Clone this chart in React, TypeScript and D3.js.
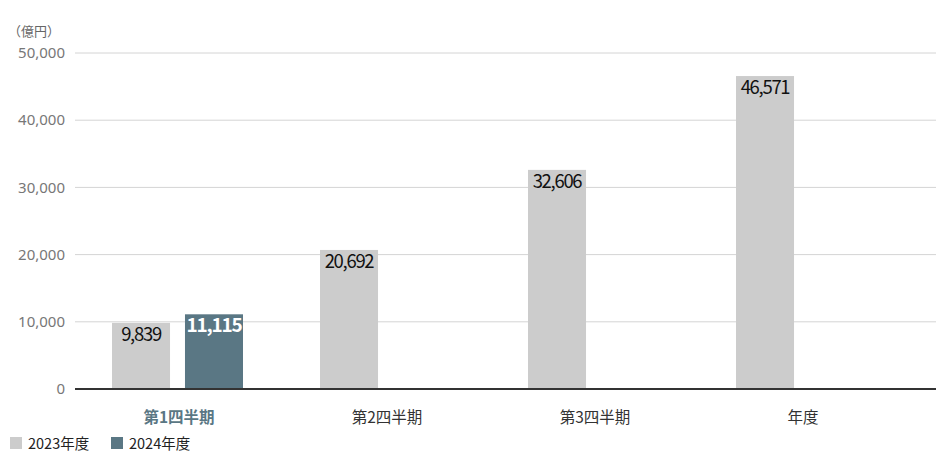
import React, { useEffect, useRef } from 'react';
import * as d3 from 'd3';

const categories = ['第1四半期', '第2四半期', '第3四半期', '年度'];
const values2023 = [9839, 20692, 32606, 46571];
const values2024: (number | null)[] = [11115, null, null, null];
const yTicks = [0, 10000, 20000, 30000, 40000, 50000];
const seriesNames = ['2023年度', '2024年度'];
const unitLabel = '（億円）';

const GRAY = '#cccccc';
const BLUE = '#5a7784';
const FONT = '"Noto Sans CJK JP", "Noto Sans", sans-serif';

const App = () => {
  const ref = useRef<SVGSVGElement>(null);

  useEffect(() => {
    const width = 936;
    const height = 456;
    const margin = { top: 53, left: 75, bottom: 67, right: 29 };
    const svg = d3.select(ref.current!);
    svg.selectAll('*').remove();

    const x = d3.scaleBand<string>()
      .domain(categories)
      .range([margin.left, width - margin.right])
      .padding(0);

    const y = d3.scaleLinear()
      .domain([0, 50000])
      .range([height - margin.bottom, margin.top]);

    // slots inside each category band
    const slot = d3.scaleBand<string>()
      .domain(['2023', '2024'])
      .range([37, 168])
      .paddingInner(0.205);

    // gridlines
    svg.append('g')
      .selectAll('line')
      .data(yTicks.filter(t => t > 0))
      .enter()
      .append('line')
      .attr('x1', margin.left)
      .attr('x2', width)
      .attr('y1', d => y(d))
      .attr('y2', d => y(d))
      .attr('stroke', '#d4d4d4')
      .attr('stroke-width', 1);

    // y tick labels
    svg.append('g')
      .selectAll('text')
      .data(yTicks)
      .enter()
      .append('text')
      .attr('x', 65)
      .attr('y', d => y(d))
      .attr('dy', '0.35em')
      .attr('text-anchor', 'end')
      .attr('font-family', '"Noto Sans", sans-serif')
      .attr('font-size', 15)
      .attr('fill', '#777')
      .text(d => d3.format(',')(d));

    svg.append('text')
      .attr('x', 8)
      .attr('y', 36)
      .attr('font-family', FONT)
      .attr('font-size', 13)
      .attr('fill', '#666')
      .text(unitLabel);

    // 2023 bars
    svg.append('g')
      .selectAll('rect')
      .data(values2023)
      .enter()
      .append('rect')
      .attr('x', (d, i) => x(categories[i])! + slot('2023')!)
      .attr('y', d => y(d))
      .attr('width', slot.bandwidth())
      .attr('height', d => y(0) - y(d))
      .attr('fill', GRAY);

    svg.append('g')
      .selectAll('text')
      .data(values2023)
      .enter()
      .append('text')
      .attr('x', (d, i) => x(categories[i])! + slot('2023')! + slot.bandwidth() / 2)
      .attr('y', d => y(d) + 18)
      .attr('text-anchor', 'middle')
      .attr('font-family', FONT)
      .attr('font-size', 18.5)
      .attr('letter-spacing', '-1.3px')
      .attr('fill', '#111')
      .text(d => d3.format(',')(d));

    // 2024 bars
    const data2024 = values2024
      .map((v, i) => ({ v, c: categories[i] }))
      .filter(d => d.v !== null) as { v: number; c: string }[];

    svg.append('g')
      .selectAll('rect')
      .data(data2024)
      .enter()
      .append('rect')
      .attr('x', d => x(d.c)! + slot('2024')!)
      .attr('y', d => y(d.v))
      .attr('width', slot.bandwidth())
      .attr('height', d => y(0) - y(d.v))
      .attr('fill', BLUE);

    svg.append('g')
      .selectAll('text')
      .data(data2024)
      .enter()
      .append('text')
      .attr('x', d => x(d.c)! + slot('2024')! + slot.bandwidth() / 2)
      .attr('y', d => y(d.v) + 18)
      .attr('text-anchor', 'middle')
      .attr('font-family', FONT)
      .attr('font-size', 19)
      .attr('font-weight', 'bold')
      .attr('letter-spacing', '-1.2px')
      .attr('fill', '#fff')
      .text(d => d3.format(',')(d.v));

    // baseline
    svg.append('line')
      .attr('x1', margin.left)
      .attr('x2', width)
      .attr('y1', y(0))
      .attr('y2', y(0))
      .attr('stroke', '#333')
      .attr('stroke-width', 2);

    // category labels
    svg.append('g')
      .selectAll('text')
      .data(categories)
      .enter()
      .append('text')
      .attr('x', d => x(d)! + x.bandwidth() / 2)
      .attr('y', 423)
      .attr('text-anchor', 'middle')
      .attr('font-family', FONT)
      .attr('font-size', 15.5)
      .attr('font-weight', (d, i) => (values2024[i] !== null ? 'bold' : 'normal'))
      .attr('fill', (d, i) => (values2024[i] !== null ? BLUE : '#333'))
      .text(d => d);

    // legend
    const legend = svg.append('g');
    const legendX = [10, 111];
    const legendColors = [GRAY, BLUE];
    seriesNames.forEach((name, i) => {
      legend.append('rect')
        .attr('x', legendX[i])
        .attr('y', 437)
        .attr('width', 12)
        .attr('height', 12)
        .attr('fill', legendColors[i]);
      legend.append('text')
        .attr('x', legendX[i] + 18)
        .attr('y', 449)
        .attr('font-family', FONT)
        .attr('font-size', 14.5)
        .attr('fill', '#222')
        .text(name);
    });
  }, []);

  return (
    <svg
      ref={ref}
      width={936}
      height={456}
      style={{ position: 'absolute', left: 0, top: 0, background: '#fff' }}
    />
  );
};

export default App;
